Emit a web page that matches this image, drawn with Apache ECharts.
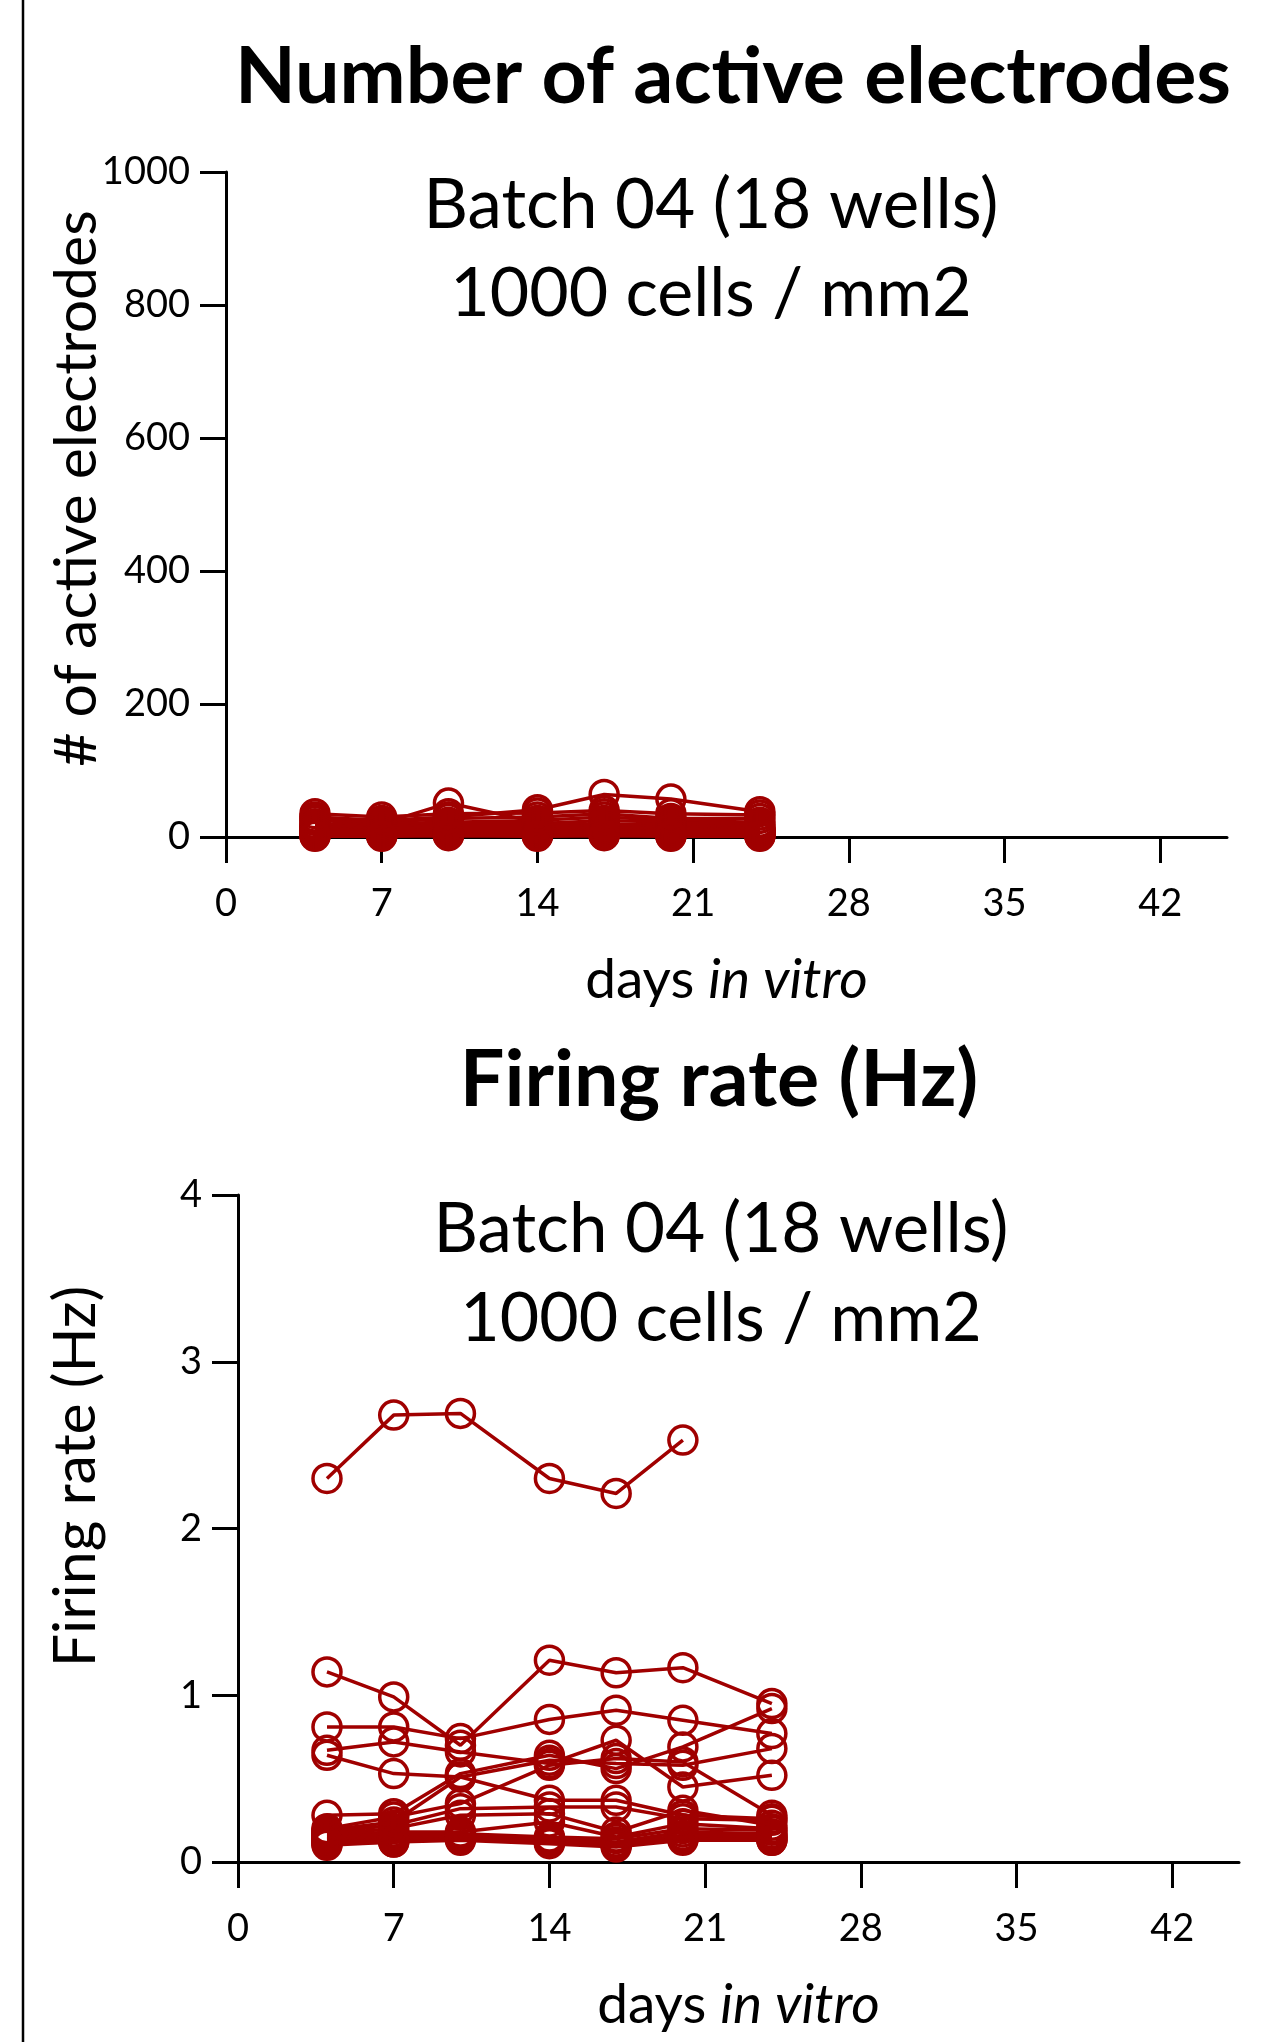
<!DOCTYPE html>
<html><head><meta charset="utf-8">
<script src="https://cdn.jsdelivr.net/npm/echarts@6/dist/echarts.min.js"></script>
<style>html,body{margin:0;padding:0;background:#fff}#c{width:1285px;height:2042px}</style>
</head><body><div id="c"></div>
<script>
// ---- data ----
const days = [4, 7, 10, 14, 17, 20, 24];
const xTicks = [0, 7, 14, 21, 28, 35, 42];
const yTicksTop = [0, 200, 400, 600, 800, 1000];
const yTicksBottom = [0, 1, 2, 3, 4];

// number of active electrodes per well
const activeW01 = [12, 20, 51, 22, 18, 15, 10];
const activeW02 = [30, 25, 30, 41, 64, 57, 38];
const activeW03 = [35, 30, 35, 36, 40, 35, 33];
const activeW04 = [28, 22, 28, 30, 35, 28, 28];
const activeW05 = [25, 20, 22, 25, 30, 25, 22];
const activeW06 = [20, 18, 20, 20, 25, 22, 18];
const activeW07 = [18, 15, 18, 18, 20, 18, 15];
const activeW08 = [15, 12, 15, 15, 16, 15, 12];
const activeW09 = [12, 10, 12, 12, 13, 12, 10];
const activeW10 = [10, 9, 10, 10, 11, 10, 9];
const activeW11 = [8, 8, 8, 8, 9, 8, 8];
const activeW12 = [7, 7, 7, 7, 8, 7, 7];
const activeW13 = [6, 6, 6, 6, 7, 6, 6];
const activeW14 = [5, 5, 6, 5, 6, 5, 5];
const activeW15 = [4, 4, 5, 4, 5, 4, 4];
const activeW16 = [3, 3, 4, 3, 4, 3, 3];
const activeW17 = [2, 2, 3, 2, 3, 2, 2];
const activeW18 = [1, 1, 2, 1, 2, 1, 1];

// firing rate (Hz) per well
const rateW01 = [2.30, 2.68, 2.69, 2.30, 2.21, 2.53, null];
const rateW02 = [1.14, 0.99, 0.70, 1.21, 1.135, 1.165, 0.95];
const rateW03 = [0.81, 0.81, 0.74, 0.855, 0.91, 0.85, 0.77];
const rateW04 = [0.67, 0.72, 0.66, 0.59, 0.73, 0.45, 0.52];
const rateW05 = [0.64, 0.53, 0.51, 0.61, 0.59, 0.58, 0.68];
const rateW06 = [0.28, 0.29, 0.53, 0.64, 0.56, 0.69, 0.92];
const rateW07 = [0.20, 0.27, 0.35, 0.58, 0.62, 0.60, 0.28];
const rateW08 = [0.19, 0.24, 0.51, 0.37, 0.37, 0.28, 0.26];
const rateW09 = [0.18, 0.22, 0.32, 0.33, 0.33, 0.26, 0.25];
const rateW10 = [0.17, 0.20, 0.28, 0.29, 0.18, 0.31, 0.22];
const rateW11 = [0.16, 0.18, 0.18, 0.24, 0.15, 0.23, 0.20];
const rateW12 = [0.15, 0.17, 0.17, 0.15, 0.14, 0.20, 0.19];
const rateW13 = [0.14, 0.16, 0.16, 0.14, 0.12, 0.18, 0.17];
const rateW14 = [0.13, 0.15, 0.15, 0.13, 0.11, 0.16, 0.16];
const rateW15 = [0.12, 0.14, 0.15, 0.13, 0.11, 0.15, 0.15];
const rateW16 = [0.12, 0.13, 0.14, 0.12, 0.10, 0.14, 0.14];
const rateW17 = [0.11, 0.12, 0.14, 0.12, 0.10, 0.14, 0.13];
const rateW18 = [0.10, 0.12, 0.13, 0.11, 0.09, 0.13, 0.13];

const activeWells = [activeW01, activeW02, activeW03, activeW04, activeW05, activeW06, activeW07, activeW08, activeW09,
  activeW10, activeW11, activeW12, activeW13, activeW14, activeW15, activeW16, activeW17, activeW18];
const rateWells = [rateW01, rateW02, rateW03, rateW04, rateW05, rateW06, rateW07, rateW08, rateW09,
  rateW10, rateW11, rateW12, rateW13, rateW14, rateW15, rateW16, rateW17, rateW18];

// ---- styling ----
const RED = '#A00000';
const FONT = 'Lato, "Open Sans", sans-serif';
const axisLine = {show: true, onZero: false, lineStyle: {color: '#000', width: 3}};
const axisTick = (vals) => ({show: true, length: 26, lineStyle: {color: '#000', width: 3}, customValues: vals});

function xAxis(gi) {
  return {
    type: 'value', gridIndex: gi, min: 0, max: 45, interval: 7,
    axisLine, axisTick: axisTick(xTicks), splitLine: {show: false},
    axisLabel: {customValues: xTicks, fontFamily: FONT, fontSize: 38, color: '#000', margin: 48,
                formatter: v => String(v)},
    name: '{a|days }{b|in vitro}', nameLocation: 'middle', nameGap: 116, nameMoveOverlap: false,
    nameTextStyle: {rich: {a: {fontFamily: FONT, fontSize: 55, color: '#000'},
                           b: {fontFamily: FONT, fontSize: 55, fontStyle: 'italic', color: '#000'}}}
  };
}
function yAxis(gi, max, interval, ticks, name, gap, shiftUp) {
  return {
    type: 'value', gridIndex: gi, min: 0, max, interval,
    axisLine, axisTick: axisTick(ticks), splitLine: {show: false},
    axisLabel: {customValues: ticks, fontFamily: FONT, fontSize: 38, color: '#000', margin: 36,
                formatter: v => String(v)},
    name, nameLocation: 'middle', nameRotate: 90, nameGap: gap, nameMoveOverlap: false,
    nameTextStyle: {fontFamily: FONT, fontSize: 59, color: '#000', padding: [0, 0, 0, shiftUp * 2]}
  };
}
function mk(data, gi) {
  return {
    type: 'line', xAxisIndex: gi, yAxisIndex: gi,
    data: days.map((d, i) => [d, data[i]]),
    symbol: 'circle', symbolSize: 28, connectNulls: false,
    itemStyle: {color: 'rgba(0,0,0,0)', borderColor: RED, borderWidth: 3.5},
    lineStyle: {color: RED, width: 3.5},
    animation: false, silent: true, z: 3
  };
}

const chart = echarts.init(document.getElementById('c'), null, {renderer: 'canvas'});
const textEl = (t, x, y, size, weight) => ({
  type: 'text', x, y, silent: true,
  style: {text: t, fontFamily: FONT, fontSize: size, fontWeight: weight || 'normal', fill: '#000',
          textAlign: 'center', textVerticalAlign: 'middle'}
});
chart.setOption({
  backgroundColor: '#fff',
  animation: false,
  grid: [
    {left: 226, top: 172, width: 1001, height: 665, containLabel: false},
    {left: 238, top: 1195, width: 1001, height: 667, containLabel: false}
  ],
  xAxis: [xAxis(0), xAxis(1)],
  yAxis: [
    yAxis(0, 1000, 200, yTicksTop, '# of active electrodes', 120, 16),
    yAxis(1, 4, 1, yTicksBottom, 'Firing rate (Hz)', 133, 52)
  ],
  series: [
    ...activeWells.map(w => mk(w, 0)),
    ...rateWells.map(w => mk(w, 1))
  ],
  graphic: [
    {type: 'line', shape: {x1: 23, y1: 0, x2: 23, y2: 2042}, style: {stroke: '#000', lineWidth: 2.5}, silent: true},
    textEl('Number of active electrodes', 733, 78, 79, 'bold'),
    textEl('Batch 04 (18 wells)', 711, 206, 69),
    textEl('1000 cells / mm2', 711, 294, 68),
    textEl('Firing rate (Hz)', 719, 1081, 79, 'bold'),
    textEl('Batch 04 (18 wells)', 721, 1230, 69),
    textEl('1000 cells / mm2', 721, 1319, 68)
  ]
});
</script></body></html>
